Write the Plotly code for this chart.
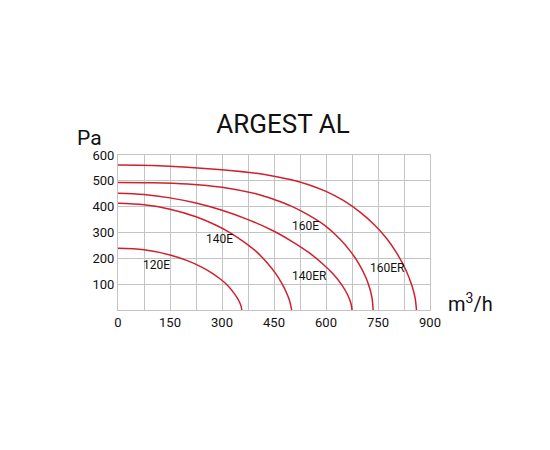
import plotly.graph_objects as go

# Data (airflow m3/h vs pressure Pa)
x_120E = [0, 75, 150, 200, 240, 270, 295, 315, 330, 342, 350, 355, 357]
y_120E = [239, 233, 213, 191, 167, 144, 120, 97, 73, 51, 32, 15, 0]

x_140E = [0, 75, 150, 225, 280, 325, 365, 400, 430, 455, 473, 486, 495, 501]
y_140E = [413, 407, 390, 361, 330, 298, 262, 225, 183, 141, 102, 67, 36, 0]

x_140ER = [0, 75, 150, 225, 300, 375, 450, 500, 550, 590, 620, 645, 662, 672, 675]
y_140ER = [452, 447, 434, 414, 386, 350, 305, 267, 223, 179, 140, 98, 60, 25, 0]

x_160E = [0, 100, 200, 300, 400, 450, 500, 550, 600, 640, 670, 695, 715, 727, 733, 736]
y_160E = [494, 493, 488, 475, 449, 428, 402, 367, 324, 275, 228, 179, 126, 80, 44, 0]

x_160ER = [0, 100, 200, 300, 400, 450, 500, 550, 600, 650, 700, 740, 775, 805, 830, 848, 857, 861]
y_160ER = [561, 559, 553, 543, 529, 518, 504, 485, 459, 424, 377, 329, 277, 218, 156, 94, 47, 0]

series = [
    ("120E", x_120E, y_120E),
    ("140E", x_140E, y_140E),
    ("140ER", x_140ER, y_140ER),
    ("160E", x_160E, y_160E),
    ("160ER", x_160ER, y_160ER),
]

label_names = ["120E", "140E", "160E", "140ER", "160ER"]
label_x = [112, 292, 542, 551, 776]
label_y = [174, 275, 325, 132, 163]

x_ticks = [0, 150, 300, 450, 600, 750, 900]
y_ticks = [100, 200, 300, 400, 500, 600]

RED = "#d0202e"
GRID = "#c4c4c4"
FONT = "Roboto"

fig = go.Figure()
for name, xs, ys in series:
    fig.add_trace(go.Scatter(
        x=xs, y=ys, mode="lines", name=name,
        line=dict(color=RED, width=1.5, shape="spline", smoothing=1.0),
        hoverinfo="skip",
    ))

for n, lx, ly in zip(label_names, label_x, label_y):
    fig.add_annotation(x=lx, y=ly, text=n, showarrow=False,
                       font=dict(family=FONT, size=12, color="#111"))

fig.add_annotation(xref="paper", yref="paper", x=-0.09, y=1.02, xanchor="center",
                   yanchor="bottom", text="Pa", showarrow=False,
                   font=dict(family=FONT, size=21, color="#111"))
fig.add_annotation(xref="paper", yref="paper", x=1.05, y=0.045, xanchor="left",
                   yanchor="middle", text="m<sup>3</sup>/h", showarrow=False,
                   font=dict(family=FONT, size=20, color="#111"))

# page body has an 8px default margin, so the margins compensate for it
fig.update_layout(
    width=550, height=450,
    margin=dict(l=110, r=128, t=147, b=148, autoexpand=False),
    paper_bgcolor="white", plot_bgcolor="white",
    showlegend=False,
    title=dict(text="ARGEST AL", x=0.5, xanchor="center", y=1 - 116 / 450,
               yanchor="middle", font=dict(family=FONT, size=26, color="#111")),
    xaxis=dict(range=[0, 900], tickvals=x_ticks, showgrid=True, gridcolor=GRID,
               gridwidth=1, zeroline=False, showline=True, linecolor=GRID, mirror=True,
               ticks="", automargin=False,
               tickfont=dict(family=FONT, size=13, color="#111"),
               minor=dict(dtick=75, tick0=0, showgrid=True, gridcolor=GRID, gridwidth=1)),
    yaxis=dict(range=[0, 600], tickvals=y_ticks, showgrid=True, gridcolor=GRID,
               gridwidth=1, zeroline=False, showline=True, linecolor=GRID, mirror=True,
               ticks="", automargin=False,
               tickfont=dict(family=FONT, size=13, color="#111")),
)

fig.write_html("out.html")
